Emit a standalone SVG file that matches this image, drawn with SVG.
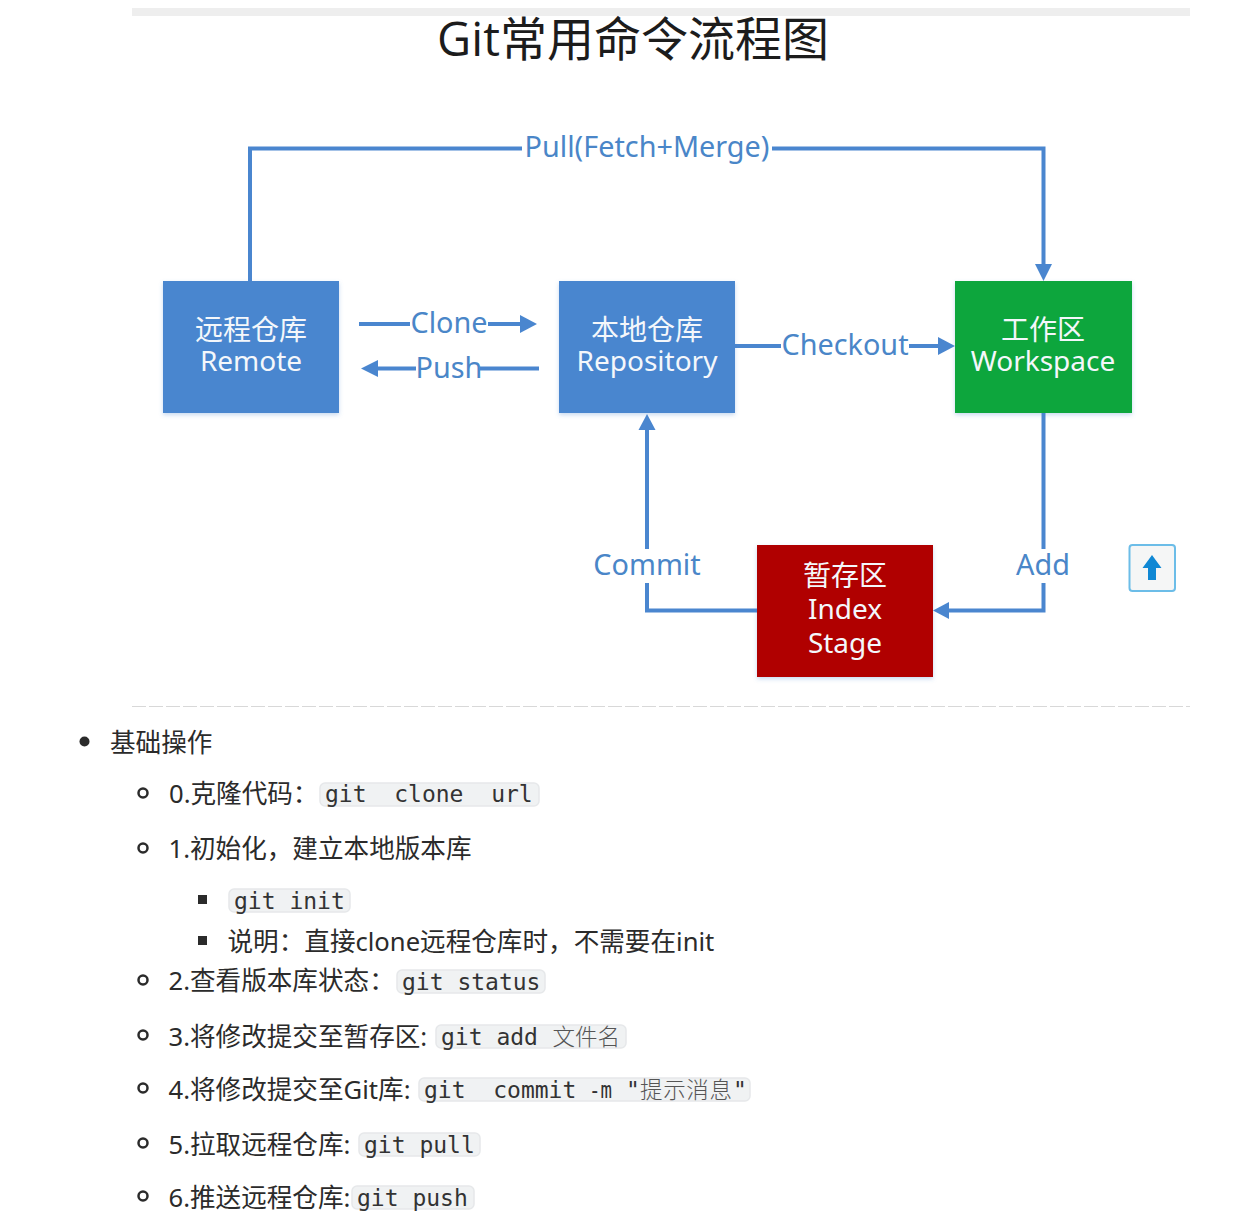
<svg xmlns="http://www.w3.org/2000/svg" width="1252" height="1226" viewBox="0 0 1252 1226">
<style>
text{font-family:"Noto Sans","Noto Sans CJK SC",sans-serif}
.title{font-size:47px;fill:#1c1c1c;text-anchor:middle;font-family:"Open Sans","Noto Sans CJK SC",sans-serif}
.lbl{font-size:28.800px;fill:#4a86c8;text-anchor:middle}
.node{font-size:28px;fill:#f4f7fb;text-anchor:middle}
.body{font-size:25.600px;fill:#2b2b2b}
.code{font-size:23px;fill:#333;font-family:"DejaVu Sans Mono","Noto Sans CJK SC",monospace;white-space:pre}
.cjk{font-size:22.500px;fill:#555;font-family:"Noto Sans CJK SC",sans-serif;font-weight:300}
.chip{fill:#f0f2f3;stroke:#e6e8ea;stroke-width:1.5}
.conn{fill:none;stroke:#4a86cf;stroke-width:4}
.head{fill:#4a86cf}
.ring{fill:none;stroke:#2b2b2b;stroke-width:2.500}
</style>
<defs><filter id="soft" x="-5%" y="-5%" width="110%" height="112%"><feDropShadow dx="0" dy="2" stdDeviation="2" flood-color="#4a86cf" flood-opacity=".3"/></filter></defs>
<rect x="132" y="8" width="1058" height="8" fill="#eeeeee"/>
<text class="title" x="633" y="56">Git常用命令流程图</text>
<g id="connectors">
<path class="conn" d="M250 281V148.500H522M772 148.500H1043.500V266"/><polygon class="head" points="1043.500,281 1035,264 1052,264"/>
<path class="conn" d="M359 324H410M488 324H522"/><polygon class="head" points="537,324 520,315 520,333"/>
<path class="conn" d="M539 368.500H480M416 368.500H376"/><polygon class="head" points="361,368.500 378,360 378,377"/>
<path class="conn" d="M735 346H781M909 346H940"/><polygon class="head" points="955,346 938,337 938,355"/>
<path class="conn" d="M647 549V430"/><polygon class="head" points="647,414 638.500,430 655.500,430"/>
<path class="conn" d="M647 583V610.500H758"/>
<path class="conn" d="M1043.500 413V549M1043.500 583V610.500H948"/><polygon class="head" points="933,610.500 949,602 949,619"/>
<text class="lbl" x="647" y="157">Pull(Fetch+Merge)</text>
<text class="lbl" x="449" y="333">Clone</text>
<text class="lbl" x="449" y="378">Push</text>
<text class="lbl" x="845" y="355">Checkout</text>
<text class="lbl" x="647" y="575">Commit</text>
<text class="lbl" x="1043" y="575">Add</text>
</g>
<g id="remote"><rect x="163" y="281" width="176" height="132" fill="#4a86cf" filter="url(#soft)"/><text class="node" x="251" y="340">远程仓库</text><text class="node" x="251" y="371">Remote</text></g>
<g id="repository"><rect x="559" y="281" width="176" height="132" fill="#4a86cf" filter="url(#soft)"/><text class="node" x="647" y="340">本地仓库</text><text class="node" x="647" y="371">Repository</text></g>
<g id="workspace"><rect x="955" y="281" width="177" height="132" fill="#08a63c" filter="url(#soft)"/><text class="node" x="1043" y="340">工作区</text><text class="node" x="1043" y="371">Workspace</text></g>
<g id="stage"><rect x="757" y="545" width="176" height="132" fill="#b00000" filter="url(#soft)"/><text class="node" x="845" y="586">暂存区</text><text class="node" x="845" y="619">Index</text><text class="node" x="845" y="653">Stage</text></g>
<g id="top-button"><rect x="1129.500" y="545" width="45.500" height="46" rx="3" fill="#f5f6f6" stroke="#6cbde8" stroke-width="2"/><polygon points="1152,555 1161.500,568 1156,568 1156,580 1148,580 1148,568 1142.500,568" fill="#1088d4"/></g>
<line x1="132" y1="706.500" x2="1190" y2="706.500" stroke="#d8d8d8" stroke-width="1" stroke-dasharray="14 3"/>
<g id="list">
<circle cx="84.500" cy="741.500" r="5" fill="#2b2b2b"/>
<text class="body" x="110" y="752">基础操作</text>
<circle class="ring" cx="143" cy="793" r="4.500"/>
<text class="body" x="169" y="803">0.克隆代码：</text>
<rect class="chip" x="320" y="783" width="219" height="23" rx="5"/>
<text class="code" x="325" y="802">git  clone  url</text>
<circle class="ring" cx="143" cy="848" r="4.500"/>
<text class="body" x="168.500" y="858">1.初始化，建立本地版本库</text>
<rect x="198" y="895" width="9" height="9" fill="#2b2b2b"/>
<rect class="chip" x="229" y="889" width="121" height="23" rx="5"/>
<text class="code" x="234" y="909">git init</text>
<rect x="198" y="936" width="9" height="9" fill="#2b2b2b"/>
<text class="body" x="227.500" y="951">说明：直接clone远程仓库时，不需要在init</text>
<circle class="ring" cx="143" cy="980" r="4.500"/>
<text class="body" x="168.500" y="990">2.查看版本库状态：</text>
<rect class="chip" x="397" y="970" width="148" height="23" rx="5"/>
<text class="code" x="402" y="990">git status</text>
<circle class="ring" cx="143" cy="1035" r="4.500"/>
<text class="body" x="168.500" y="1046">3.将修改提交至暂存区:</text>
<rect class="chip" x="436" y="1025" width="190" height="23" rx="5"/>
<text class="code" x="441" y="1045">git add</text>
<text class="cjk" x="552.500" y="1045">文件名</text>
<circle class="ring" cx="143" cy="1088" r="4.500"/>
<text class="body" x="168.500" y="1099">4.将修改提交至Git库:</text>
<rect class="chip" x="419" y="1078" width="331" height="23" rx="5"/>
<text class="code" x="424" y="1098">git  commit</text>
<text class="code" x="589" y="1098" textLength="23" lengthAdjust="spacingAndGlyphs">-m</text>
<text class="code" x="626" y="1098">"</text>
<text class="cjk" x="640" y="1098" textLength="92">提示消息</text>
<text class="code" x="733" y="1098">"</text>
<circle class="ring" cx="143" cy="1143" r="4.500"/>
<text class="body" x="168.500" y="1154">5.拉取远程仓库:</text>
<rect class="chip" x="359" y="1133" width="121" height="23" rx="5"/>
<text class="code" x="364" y="1153">git pull</text>
<circle class="ring" cx="143" cy="1196" r="4.500"/>
<text class="body" x="168.500" y="1207">6.推送远程仓库:</text>
<rect class="chip" x="352" y="1186" width="122" height="23" rx="5"/>
<text class="code" x="357" y="1206">git push</text>
</g>
</svg>
